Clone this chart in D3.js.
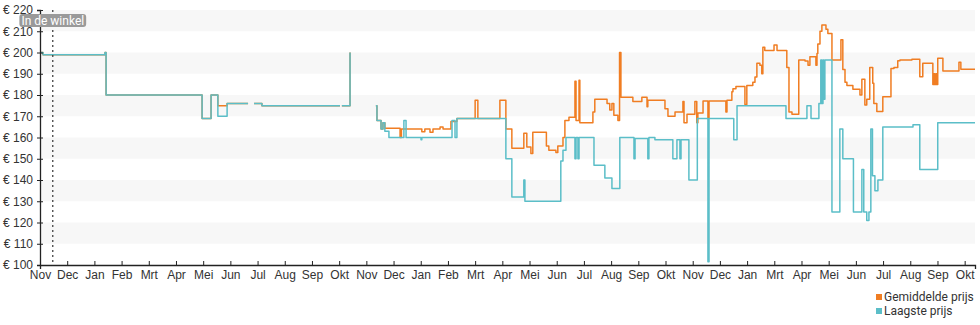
<!DOCTYPE html>
<html>
<head>
<meta charset="utf-8">
<script src="https://cdn.jsdelivr.net/npm/d3@7"></script>
<style>
  html, body { margin: 0; padding: 0; background: #fff; }
  svg { display: block; font-family: Roboto, "Noto Sans", sans-serif; }
</style>
</head>
<body>
<svg id="chart" width="980" height="325"></svg>
<script>
// Month tick labels (one per tick, evenly spaced)
const monthLabels = [
  "Nov","Dec","Jan","Feb","Mrt","Apr","Mei","Jun","Jul","Aug","Sep","Okt",
  "Nov","Dec","Jan","Feb","Mrt","Apr","Mei","Jun","Jul","Aug","Sep","Okt",
  "Nov","Dec","Jan","Mrt","Apr","Mei","Jun","Jul","Aug","Sep","Okt"
];
const priceTicks = [100,110,120,130,140,150,160,170,180,190,200,210,220];
const bandRanges = [[110,120],[130,140],[150,160],[170,180],[190,200],[210,220]];
const storeMarker = { t: 0.47, label: "In de winkel" };
const timeEnd = 34.38;

// Price change points: [time in months, price]; null = no data
const lowestPrice = [
  [0,200],[0.11,199],[2.39,200],[2.43,180],[5.96,169],[6.29,180],[6.54,170],[6.88,176],
  [7.65,176],[7.66,null],[7.87,176],[8.16,175],[11.03,175],[11.04,null],[11.10,175],[11.40,200],[11.41,null],
  [12.35,175],[12.39,168],[12.54,164],[12.61,167],[12.68,163],[12.83,160],[13.38,168],[13.46,160],
  [14.01,159],[14.04,160],[15.15,168],[15.26,160],[15.33,169],[17.13,150],[17.35,132],[17.79,140],
  [17.83,130],[19.15,149],[19.23,154],[19.34,160],[19.67,150],[19.71,160],[19.78,150],[19.82,160],
  [20.37,147],[20.77,141],[21.03,136],[21.32,160],[21.84,150],[21.88,159.5],[22.35,150],[22.39,160],
  [22.61,159],[23.27,150],[23.42,159],[23.53,150],[23.57,159],[23.86,140],[24.17,169],[24.56,101.5],
  [24.60,169],[25.51,159],[25.63,175],[27.43,169],[28.20,175],[28.35,169],[28.64,176],[28.71,196.5],
  [28.75,176],[28.79,196.5],[28.82,178],[28.86,196.5],[29.12,125],[29.41,164],[29.52,150],[29.91,125],
  [30.22,145],[30.29,125],[30.40,121],[30.48,125],[30.55,164],[30.61,142],[30.70,135],[30.81,140],
  [30.99,165],[32.10,166],[32.35,145],[33.01,167],[34.38,167]
];

const averagePrice = [
  [0,200],[0.11,199],[2.39,200],[2.43,180],[5.96,169],[6.29,180],[6.54,175],[6.88,176],
  [7.65,176],[7.66,null],[7.87,176],[8.16,175],[11.03,175],[11.04,null],[11.10,175],[11.40,200],[11.41,null],
  [12.35,175],[12.39,168],[12.54,164],[12.61,167],[12.68,164.3],[13.24,160],[13.29,164],[14.04,162.7],
  [14.15,164],[14.34,162.5],[14.45,164],[14.71,165],[14.82,164],[15.11,167.5],[15.33,169],[16.00,177.5],
  [16.10,169],[16.91,177.5],[17.13,164],[17.35,155],[17.79,162],[17.90,155.5],[18.05,152.5],[18.12,162.5],
  [18.62,156],[18.71,154],[18.97,153],[19.04,156],[19.23,160],[19.30,168],[19.45,169.5],[19.67,186.5],
  [19.71,168],[19.82,187],[19.85,167],[20.33,172],[20.40,178],[20.85,176],[20.95,173],[21.03,176],
  [21.10,170.5],[21.25,168],[21.31,200],[21.36,179],[21.80,177],[22.13,179],[22.32,174.5],[22.35,177.5],
  [22.98,173.5],[23.09,170],[23.35,172],[23.64,177],[23.68,167],[23.79,171],[24.08,177],[24.15,167],
  [24.19,171.5],[24.38,177.2],[24.56,169],[24.60,177.2],[25.22,172],[25.26,177.5],[25.44,181.5],
  [25.48,183],[25.59,184],[25.92,175.5],[25.99,184.5],[26.21,186],[26.29,188.5],[26.36,195],[26.47,194],
  [26.54,190],[26.58,202.5],[26.65,201],[26.99,203.5],[27.10,201],[27.46,193],[27.54,172],[27.65,171],
  [27.90,196.5],[28.13,196],[28.24,194],[28.31,198],[28.53,194],[28.57,199.5],[28.60,204],[28.68,210],
  [28.75,213],[28.90,211],[28.97,209],[29.12,196.5],[29.45,206],[29.52,192],[29.60,186],[29.67,184.5],
  [29.89,182.7],[30.15,180],[30.22,187.4],[30.33,175.3],[30.40,178],[30.51,193],[30.62,185.5],
  [30.66,176],[30.77,172.2],[30.99,179.2],[31.29,192.5],[31.40,193],[31.54,196.1],[31.62,196.5],
  [32.06,196.8],[32.35,188.6],[32.46,194.9],[32.83,185],[32.87,190],[32.90,185],[32.94,190],[32.98,185],
  [33.01,197.3],[33.20,191.3],[33.79,195.4],[33.86,192.1],[34.38,192.1]
];

const seriesInfo = [
  { name: "Gemiddelde prijs", color: "#f07d22", data: averagePrice },
  { name: "Laagste prijs", color: "#5bbec8", data: lowestPrice }
];

const svg = d3.select("#chart");
const plot = { left: 40, right: 975, top: 10, bottom: 265 };

const x = d3.scaleLinear().domain([0, timeEnd]).range([plot.left, plot.right]);
const y = d3.scaleLinear().domain([100, 220]).range([plot.bottom, plot.top]);

// Alternating background bands
svg.append("g").selectAll("rect").data(bandRanges).join("rect")
  .attr("x", plot.left)
  .attr("width", plot.right - plot.left)
  .attr("y", d => y(d[1]))
  .attr("height", d => y(d[0]) - y(d[1]))
  .attr("fill", "#f7f7f7");

// Price lines
const line = d3.line()
  .defined(d => d[1] !== null)
  .x(d => x(d[0]))
  .y(d => y(d[1]))
  .curve(d3.curveStepAfter);

svg.append("g").selectAll("path").data(seriesInfo).join("path")
  .attr("d", d => line(d.data))
  .attr("fill", "none")
  .attr("stroke", d => d.color)
  .attr("stroke-width", 1.5)
  .attr("stroke-linejoin", "round");

// Y axis
const yAxis = svg.append("g")
  .attr("transform", `translate(${plot.left},0)`)
  .call(d3.axisLeft(y).tickValues(priceTicks).tickFormat(d => "€ " + d).tickSize(3).tickPadding(4));
yAxis.select(".domain").attr("stroke", "#222").attr("stroke-width", 1.3);
yAxis.selectAll(".tick line").attr("x1", 3).attr("x2", -3).attr("stroke", "#222");
yAxis.selectAll("text").attr("font-size", 12).attr("fill", "#333");

// X axis
const xAxis = svg.append("g")
  .attr("transform", `translate(0,${plot.bottom})`)
  .call(d3.axisBottom(x).tickValues(d3.range(monthLabels.length))
    .tickFormat(i => monthLabels[i]).tickSizeOuter(0).tickSize(4).tickPadding(1));
xAxis.select(".domain").attr("stroke", "#222").attr("stroke-width", 1.3);
xAxis.selectAll(".tick line").attr("y1", -4).attr("y2", 0).attr("stroke", "#222");
xAxis.selectAll("text").attr("font-size", 12).attr("fill", "#333");

// "In de winkel" marker
const mx = x(storeMarker.t);
svg.append("line")
  .attr("x1", mx).attr("x2", mx)
  .attr("y1", plot.top).attr("y2", plot.bottom)
  .attr("stroke", "#333").attr("stroke-width", 1.2)
  .attr("stroke-dasharray", "2,3");
const mLabel = svg.append("g");
const mText = mLabel.append("text")
  .attr("x", mx).attr("y", 24.5)
  .attr("text-anchor", "middle")
  .attr("font-size", 12)
  .attr("fill", "#fff")
  .text(storeMarker.label);
const bb = mText.node().getBBox();
mLabel.insert("rect", "text")
  .attr("x", bb.x - 2).attr("y", 14)
  .attr("width", bb.width + 4).attr("height", 13)
  .attr("rx", 3)
  .attr("fill", "#9a9a9a");

// Legend
const legend = svg.append("g").attr("transform", "translate(876,293)");
const items = legend.selectAll("g").data(seriesInfo).join("g")
  .attr("transform", (d, i) => `translate(0,${i * 14})`);
items.append("rect").attr("width", 6).attr("height", 6).attr("y", 1).attr("fill", d => d.color);
items.append("text").attr("x", 8).attr("y", 8).attr("font-size", 12).attr("fill", "#333").text(d => d.name);
</script>
</body>
</html>
